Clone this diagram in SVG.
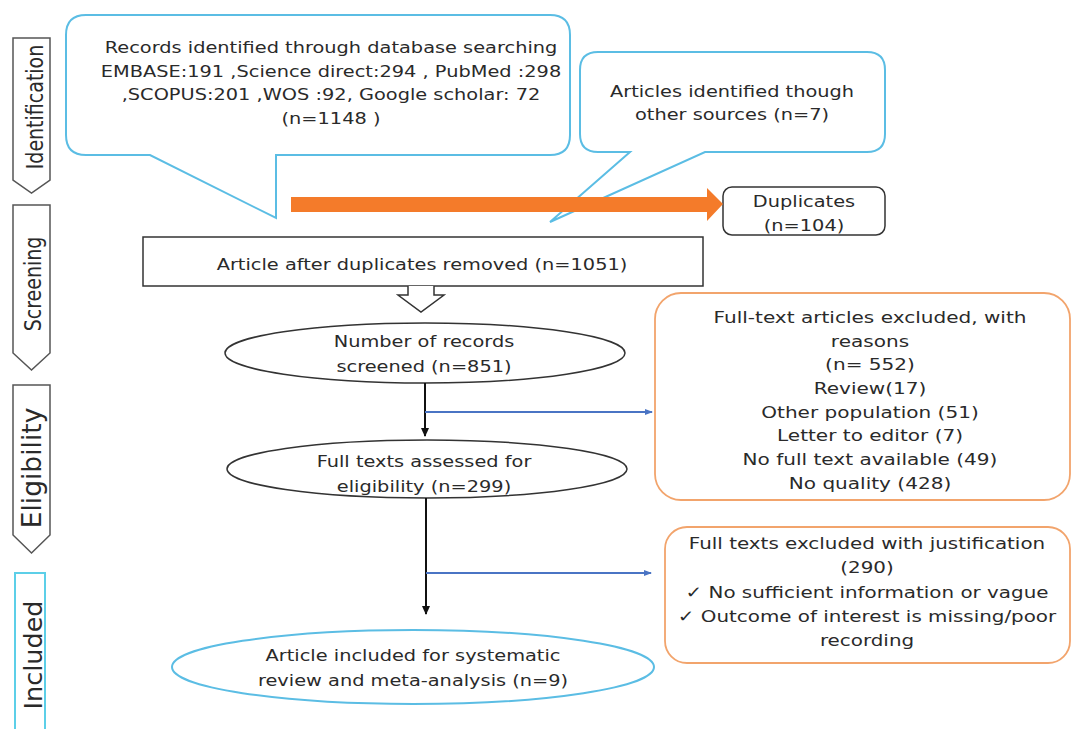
<svg xmlns="http://www.w3.org/2000/svg" width="1071" height="729" viewBox="0 0 1071 729">
<defs>
<style>
text{font-family:"DejaVu Sans","Liberation Sans",sans-serif;fill:#2a2a2a;text-anchor:middle;font-size:16px}
.o text{font-size:16.3px}
.callout{fill:#fff;stroke:#5bbde4;stroke-width:2}
.band{fill:#fff;stroke:#555;stroke-width:1.5}
.ob{fill:#fff;stroke:#f2a46c;stroke-width:1.8}
.blk{stroke:#111;stroke-width:2;fill:none}
.blu{stroke:#4a74c4;stroke-width:1.8;fill:none}
</style>
<marker id="ab" markerWidth="9" markerHeight="9" refX="8" refY="4.5" orient="auto" markerUnits="userSpaceOnUse"><path d="M0,0.5 L9,4.5 L0,8.5 z" fill="#111"/></marker>
<marker id="au" markerWidth="8" markerHeight="8" refX="7" refY="4" orient="auto" markerUnits="userSpaceOnUse"><path d="M0,1 L8,4 L0,7 z" fill="#4a74c4"/></marker>
</defs>
<rect width="1071" height="729" fill="#fff"/>

<g id="band-identification">
<path class="band" d="M13,38 H50 V180 L31.5,193 L13,180 Z"/>
<text transform="translate(43,107) scale(1.25,1) rotate(-90)" style="font-size:19px">Identification</text>
</g>
<g id="band-screening">
<path class="band" d="M13,205 H50 V353 L31.5,370 L13,353 Z"/>
<text transform="translate(41,284) scale(1.25,1) rotate(-90)" style="font-size:19px">Screening</text>
</g>
<g id="band-eligibility">
<path class="band" d="M13,385 H50 V535 L31.5,553 L13,535 Z"/>
<text transform="translate(41,468) rotate(-90)" style="font-size:26.5px">Eligibility</text>
</g>
<g id="band-included">
<rect x="15" y="573" width="30" height="170" fill="#fff" stroke="#5ccfe8" stroke-width="2"/>
<text transform="translate(42,655) rotate(-90)" style="font-size:25.5px">Included</text>
</g>

<g id="callout-db">
<path class="callout" d="M86,15 H550 Q570,15 570,35 V135 Q570,155 550,155 H276 V218 L150,155 H86 Q66,155 66,135 V35 Q66,15 86,15 Z"/>
<g transform="translate(331,0) scale(1.21,1)">
<text x="0" y="53">Records identified through database searching</text>
<text x="0" y="77">EMBASE:191 ,Science direct:294 , PubMed :298</text>
<text x="0" y="100">,SCOPUS:201 ,WOS :92, Google scholar: 72</text>
<text x="0" y="124">(n=1148 )</text>
</g>
</g>

<g id="callout-other">
<path class="callout" d="M598,52 H867 Q885,52 885,70 V134 Q885,152 867,152 H705 L550,222 L630,152 H598 Q580,152 580,134 V70 Q580,52 598,52 Z"/>
<g transform="translate(732,0) scale(1.21,1)">
<text x="0" y="97">Articles identified though</text>
<text x="0" y="120">other sources (n=7)</text>
</g>
</g>

<g id="duplicates">
<rect x="723" y="187" width="162" height="48" rx="9" fill="#fff" stroke="#333" stroke-width="1.5"/>
<g transform="translate(804,0) scale(1.21,1)">
<text x="0" y="207">Duplicates</text>
<text x="0" y="231">(n=104)</text>
</g>
</g>

<g id="after-duplicates">
<rect x="143" y="237" width="560" height="49" fill="#fff" stroke="#333" stroke-width="1.5"/>
<g transform="translate(422,0) scale(1.21,1)">
<text x="0" y="270">Article after duplicates removed (n=1051)</text>
</g>
</g>

<g id="screened">
<ellipse cx="425" cy="353" rx="200" ry="30" fill="#fff" stroke="#333" stroke-width="1.5"/>
<g transform="translate(424,0) scale(1.21,1)">
<text x="0" y="347">Number of records</text>
<text x="0" y="372">screened (n=851)</text>
</g>
</g>

<g id="eligibility">
<ellipse cx="427" cy="469" rx="200" ry="29" fill="#fff" stroke="#333" stroke-width="1.5"/>
<g transform="translate(424,0) scale(1.21,1)">
<text x="0" y="467">Full texts assessed for</text>
<text x="0" y="492">eligibility (n=299)</text>
</g>
</g>

<g id="included">
<ellipse cx="413" cy="667" rx="241" ry="37" fill="#fff" stroke="#5bbde4" stroke-width="2"/>
<g transform="translate(413,0) scale(1.21,1)">
<text x="0" y="661">Article included for systematic</text>
<text x="0" y="686">review and meta-analysis (n=9)</text>
</g>
</g>

<g id="excluded-1" class="o">
<rect x="655" y="293" width="415" height="207" rx="26" class="ob"/>
<g transform="translate(870,0) scale(1.23,1)">
<text x="0" y="323">Full-text articles excluded, with</text>
<text x="0" y="347">reasons</text>
<text x="0" y="370">(n= 552)</text>
<text x="0" y="394">Review(17)</text>
<text x="0" y="418">Other population (51)</text>
<text x="0" y="441">Letter to editor (7)</text>
<text x="0" y="465">No full text available (49)</text>
<text x="0" y="489">No quality (428)</text>
</g>
</g>

<g id="excluded-2" class="o">
<rect x="665" y="527" width="405" height="136" rx="22" class="ob"/>
<g transform="translate(867,0) scale(1.22,1)">
<text x="0" y="549">Full texts excluded with justification</text>
<text x="0" y="573">(290)</text>
<text x="0" y="598">✓ No sufficient information or vague</text>
<text x="0" y="622">✓ Outcome of interest is missing/poor</text>
<text x="0" y="646">recording</text>
</g>
</g>

<g id="connectors">
<path d="M291,197 H707 V188 L723,204 L707,221 V212 H291 Z" fill="#f47b2a"/>
<path d="M408,286 V295 H398 L421,312 L444,295 H434 V286" fill="#fff" stroke="#333" stroke-width="1.5"/>
<line class="blk" x1="425" y1="383" x2="425" y2="436" marker-end="url(#ab)"/>
<line class="blu" x1="425" y1="412" x2="652" y2="412" marker-end="url(#au)"/>
<line class="blk" x1="426" y1="498" x2="426" y2="614" marker-end="url(#ab)"/>
<line class="blu" x1="426" y1="573" x2="651" y2="573" marker-end="url(#au)"/>
</g>
</svg>
